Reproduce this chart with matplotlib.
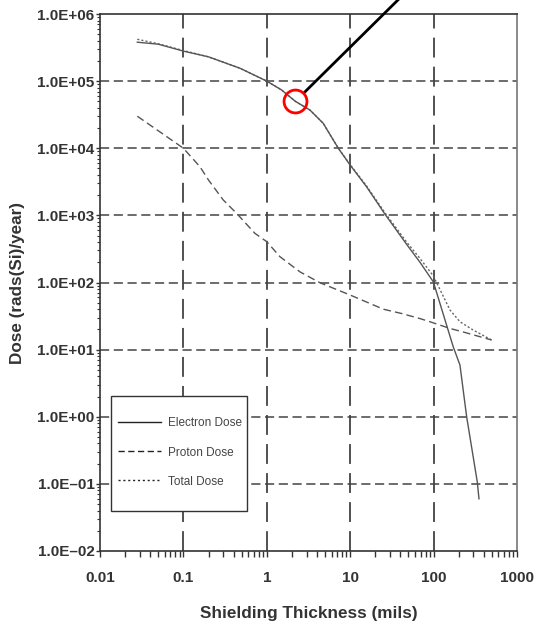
import matplotlib
matplotlib.use("Agg")
import matplotlib.pyplot as plt
from matplotlib.patches import Rectangle
from matplotlib.lines import Line2D
import numpy as np

# ---------------- data ----------------
electron_x = [0.028, 0.05, 0.1, 0.2, 0.48, 1.0, 1.5, 2.2, 3.3, 4.75, 7.2, 10, 15.7, 26, 47.5, 68.7, 99.4, 172, 207, 249, 334, 350]
electron_y = [3.8e5, 3.55e5, 2.8e5, 2.3e5, 1.55e5, 1.0e5, 7.4e4, 5.0e4, 3.7e4, 2.35e4, 1.0e4, 5.6e3, 2.67e3, 1.05e3, 370, 200, 102, 11, 5.9, 1.0, 0.107, 0.06]

proton_x = [0.028, 0.052, 0.1, 0.158, 0.2, 0.3, 0.435, 0.72, 1.0, 1.44, 2.5, 4.35, 10, 25, 41, 68.7, 90.6, 157, 227, 497]
proton_y = [3.0e4, 1.76e4, 1.0e4, 5.3e3, 3.36e3, 1.7e3, 1.07e3, 540, 405, 242, 144, 99, 65, 40, 34.6, 29, 26, 20.7, 18.3, 13.9]

total_x = [0.028, 0.05, 0.1, 0.2, 0.48, 1.0, 1.5, 2.2, 3.3, 4.75, 7.2, 10, 15.7, 26, 47.5, 68.7, 99.4, 157, 207, 300, 497]
total_y = [4.2e5, 3.6e5, 2.85e5, 2.3e5, 1.55e5, 1.0e5, 7.4e4, 5.0e4, 3.7e4, 2.35e4, 1.0e4, 5.7e3, 2.75e3, 1.1e3, 400, 228, 125, 39, 26, 19.5, 13.9]

highlight_x = [2.2]
highlight_y = [5.0e4]

x_ticks = [0.01, 0.1, 1, 10, 100, 1000]
x_tick_labels = ["0.01", "0.1", "1", "10", "100", "1000"]
y_ticks = [1e-2, 1e-1, 1e0, 1e1, 1e2, 1e3, 1e4, 1e5, 1e6]
y_tick_labels = ["1.0E\u201302", "1.0E\u201301", "1.0E+00", "1.0E+01", "1.0E+02",
                 "1.0E+03", "1.0E+04", "1.0E+05", "1.0E+06"]
series_labels = ["Electron Dose", "Proton Dose", "Total Dose"]

# ---------------- style ----------------
plt.rcParams['font.family'] = ['Liberation Sans', 'DejaVu Sans']
txt = '#333333'
curve = '#555555'

fig = plt.figure(figsize=(5.37, 6.25), dpi=100)
ax = fig.add_axes([100/537, 1-551/625, 417/537, 537/625])

ax.set_xscale('log')
ax.set_yscale('log')
ax.set_xlim(0.01, 1000)
ax.set_ylim(1e-2, 1e6)

# grid
for xv in x_ticks[1:-1]:
    ax.axvline(xv, color='#222222', lw=1.1, linestyle=(0, (13, 6)), zorder=1)
for yv in y_ticks[1:-1]:
    ax.axhline(yv, color='#444444', lw=1.1, linestyle=(0, (6, 3)), zorder=1)

# curves
ax.plot(electron_x, electron_y, color=curve, lw=1.0, linestyle='-', zorder=3)
ax.plot(proton_x, proton_y, color=curve, lw=1.0, linestyle=(0, (5.5, 3)), zorder=3)
ax.plot(total_x, total_y, color='#666666', lw=1.0, linestyle=(0, (1.5, 1.5)), zorder=2)

# highlight circle + pointer line
ax.plot(highlight_x, highlight_y, marker='o', markersize=16.5, mfc='none',
        mec='#ff0000', mew=2.0, linestyle='none', zorder=6)
ax.annotate('', xy=(highlight_x[0], highlight_y[0]), xytext=(85, 84),
            textcoords='offset points', annotation_clip=False,
            arrowprops=dict(arrowstyle='-', lw=2.0, color='black', shrinkA=0, shrinkB=9))

# ticks
ax.set_xticks(x_ticks)
ax.set_xticklabels(x_tick_labels)
ax.set_yticks(y_ticks)
ax.set_yticklabels(y_tick_labels)
ax.xaxis.set_minor_locator(matplotlib.ticker.LogLocator(base=10, subs=np.arange(2, 10), numticks=20))
ax.yaxis.set_minor_locator(matplotlib.ticker.LogLocator(base=10, subs=np.arange(2, 10), numticks=20))
ax.xaxis.set_minor_formatter(matplotlib.ticker.NullFormatter())
ax.yaxis.set_minor_formatter(matplotlib.ticker.NullFormatter())
ax.tick_params(axis='x', which='both', direction='out', length=4.3, width=1.0, color='#333333',
               labelsize=11, labelcolor=txt, pad=10)
ax.tick_params(axis='y', which='major', direction='out', length=3, width=1.0, color='#333333',
               labelsize=11, labelcolor=txt, pad=1)
ax.tick_params(axis='y', which='minor', direction='out', length=2, width=0.8, color='#333333')
for lab in ax.get_xticklabels() + ax.get_yticklabels():
    lab.set_fontweight('bold')

for s in ['left', 'bottom', 'top']:
    ax.spines[s].set_color('#333333')
    ax.spines[s].set_linewidth(1.2)
ax.spines['right'].set_color('#777777')
ax.spines['right'].set_linewidth(1.2)

ax.set_xlabel('Shielding Thickness (mils)', fontsize=12.3, fontweight='bold', color=txt, labelpad=15)
ax.set_ylabel('Dose (rads(Si)/year)', fontsize=12.3, fontweight='bold', color=txt, labelpad=9)

# legend box
box = Rectangle((11/417, 40/537), 136/417, 115/537, transform=ax.transAxes,
                facecolor='white', edgecolor='#333333', lw=1.0, zorder=7)
ax.add_patch(box)
handles = [Line2D([], [], color='#222222', lw=1.0, linestyle='-'),
           Line2D([], [], color='#222222', lw=1.0, linestyle=(0, (4.5, 2.5))),
           Line2D([], [], color='#222222', lw=1.0, linestyle=(0, (1.5, 2)))]
leg = ax.legend(handles, series_labels, loc='center left',
                bbox_to_anchor=(18/417, (551-452.5)/537), frameon=False,
                fontsize=8.5, handlelength=3.6, handletextpad=0.6,
                labelspacing=1.45, borderpad=0, borderaxespad=0)
leg.set_zorder(8)
for t in leg.get_texts():
    t.set_color('#444444')

fig.savefig('out.png', dpi=100)
